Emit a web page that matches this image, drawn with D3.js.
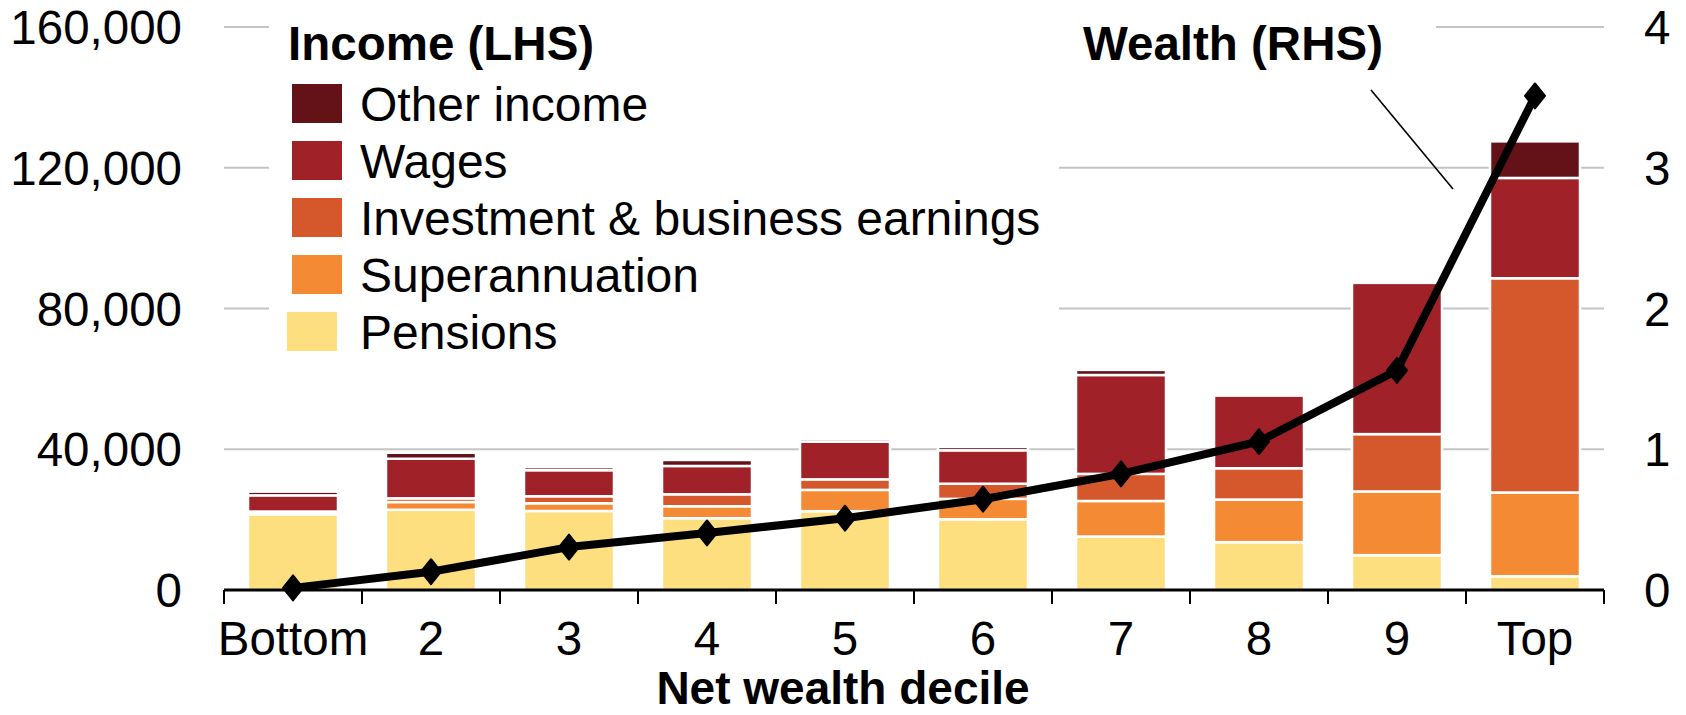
<!DOCTYPE html>
<html><head><meta charset="utf-8">
<script src="https://cdn.jsdelivr.net/npm/d3@7"></script>
<style>
html,body{margin:0;padding:0;background:#fff;}
svg{display:block;}
text{font-family:"Liberation Sans",Arial,Helvetica,sans-serif;fill:#000;}
</style>
</head><body>
<svg id="chart" width="1686" height="715"></svg>
<script>
// ---------- data ----------
const categories = ["Bottom","2","3","4","5","6","7","8","9","Top"];
const pensions       = [21500, 22800, 22450, 20400, 22400, 20100, 15200, 13600,  9900,  3900];
const superannuation = [  400,  2200,  2200,  3400,  6050,  5800, 10100, 12100, 18100, 23800];
const investment     = [  400,  1050,  2000,  3400,  3000,  4300,  7700,  8900, 16300, 60900];
const wages          = [ 4600, 11250,  7400,  8050, 10700,  9500, 28100, 20700, 43000, 28500];
const otherIncome    = [ 1050,  1700,   870,  1700,   750,   950,  1450,   500,   200, 10400];
const wealth         = [0.015, 0.13, 0.305, 0.405, 0.51, 0.645, 0.825, 1.055, 1.56, 3.51];
const seriesKeys   = ["pensions","superannuation","investment","wages","other"];
const seriesLabels = ["Pensions","Superannuation","Investment & business earnings","Wages","Other income"];
const seriesColors = ["#fddf7f","#f58a34","#d5582c","#a02128","#641217"];
const incomeTicks = [0, 40000, 80000, 120000, 160000];
const wealthTicks = [0, 1, 2, 3, 4];
const legendTitle = "Income (LHS)";
const wealthLabel = "Wealth (RHS)";
const xTitle = "Net wealth decile";

// ---------- layout ----------
const svg = d3.select("#chart");
const L = 224, R = 1604, T = 27, B = 590;
const FS = 47.5;
const FSL = 48;

const x = d3.scaleBand().domain(categories).range([L, R]).paddingInner(0.348).paddingOuter(0.174);
const y = d3.scaleLinear().domain([0, 160000]).range([B, T]);
const yR = d3.scaleLinear().domain([0, 4]).range([B, T]);

const rows = categories.map((c, i) => ({
  cat: c, pensions: pensions[i], superannuation: superannuation[i],
  investment: investment[i], wages: wages[i], other: otherIncome[i]
}));
const stacked = d3.stack().keys(seriesKeys)(rows);

// gridlines
svg.append("g").selectAll("line").data(incomeTicks.filter(t => t > 0)).join("line")
  .attr("x1", L).attr("x2", R)
  .attr("y1", d => y(d)).attr("y2", d => y(d))
  .attr("stroke", "#c4c4c4").attr("stroke-width", 2);

// legend background (knocks out gridlines)
svg.append("rect").attr("x", 269).attr("y", 8).attr("width", 1059 - 269).attr("height", 352)
  .attr("fill", "#fff");
svg.append("rect").attr("x", 1059).attr("y", 8).attr("width", 1436 - 1059).attr("height", 62)
  .attr("fill", "#fff");

// bars
const gBars = svg.append("g");
stacked.forEach((s, si) => {
  gBars.append("g").attr("fill", seriesColors[si])
    .selectAll("rect").data(s).join("rect")
    .attr("x", d => x(d.data.cat))
    .attr("width", x.bandwidth())
    .attr("y", d => y(d[1]))
    .attr("height", d => Math.max(0, y(d[0]) - y(d[1])))
    .attr("stroke", "#fff").attr("stroke-width", 2.5);
});

// x axis
const step = x.step();
const boundaries = d3.range(categories.length + 1).map(i => L + i * step);
const gx = svg.append("g");
gx.append("line").attr("x1", L).attr("x2", R).attr("y1", B).attr("y2", B)
  .attr("stroke", "#000").attr("stroke-width", 3);
gx.selectAll("line.tick").data(boundaries).join("line").attr("class", "tick")
  .attr("x1", d => d).attr("x2", d => d).attr("y1", B).attr("y2", B + 14)
  .attr("stroke", "#000").attr("stroke-width", 2);
const xAxis = d3.axisBottom(x).tickSize(0).tickPadding(0);
const gxl = svg.append("g").attr("transform", `translate(0,${B})`).call(xAxis);
gxl.select(".domain").remove();
gxl.selectAll("text").attr("y", 65).attr("dy", null).style("font-size", FS + "px").attr("fill", "#000");

// left y axis labels
const yAxisL = d3.axisLeft(y).tickValues(incomeTicks).tickFormat(d3.format(",")).tickSize(0).tickPadding(0);
const gyl = svg.append("g").attr("transform", `translate(182,0)`).call(yAxisL);
gyl.select(".domain").remove();
gyl.selectAll("text").attr("x", 0).attr("dy", "0.35em").style("font-size", FS + "px").attr("fill", "#000");

// right y axis labels
const yAxisR = d3.axisRight(yR).tickValues(wealthTicks).tickFormat(d3.format("d")).tickSize(0).tickPadding(0);
const gyr = svg.append("g").attr("transform", `translate(1644,0)`).call(yAxisR);
gyr.select(".domain").remove();
gyr.selectAll("text").attr("x", 0).attr("dy", "0.35em").style("font-size", FS + "px").attr("fill", "#000");

// wealth line
const line = d3.line().x((d, i) => x(categories[i]) + x.bandwidth() / 2).y(d => yR(d));
svg.append("path").datum(wealth).attr("d", line)
  .attr("fill", "none").attr("stroke", "#000").attr("stroke-width", 8)
  .attr("stroke-linejoin", "round");
const diamond = "M0,-12.5L10,0L0,12.5L-10,0Z";
svg.append("g").selectAll("path").data(wealth).join("path")
  .attr("transform", (d, i) => `translate(${x(categories[i]) + x.bandwidth() / 2},${yR(d)})`)
  .attr("d", diamond).attr("fill", "#000").attr("stroke", "#000")
  .attr("stroke-width", 2).attr("stroke-linejoin", "round");

// legend
svg.append("text").attr("x", 288).attr("y", 60).text(legendTitle)
  .style("font-size", FS + "px").style("font-weight", "bold");
const legendOrder = [4, 3, 2, 1, 0];
legendOrder.forEach((si, r) => {
  const top = 84 + r * 57;
  const sx = si === 0 ? 287 : 292;
  svg.append("rect").attr("x", sx).attr("y", top).attr("width", 50).attr("height", 39)
    .attr("fill", seriesColors[si]);
  svg.append("text").attr("x", 360).attr("y", top + 19.5).attr("dy", "0.36em")
    .text(seriesLabels[si]).style("font-size", FSL + "px");
});

// wealth label and pointer
svg.append("text").attr("x", 1083).attr("y", 60).text(wealthLabel)
  .style("font-size", FS + "px").style("font-weight", "bold");
svg.append("line").attr("x1", 1371).attr("y1", 90).attr("x2", 1453).attr("y2", 189)
  .attr("stroke", "#000").attr("stroke-width", 1.6);

// x title
svg.append("text").attr("x", 843).attr("y", 704).attr("text-anchor", "middle")
  .text(xTitle).style("font-size", "46px").style("font-weight", "bold");
</script>
</body></html>
